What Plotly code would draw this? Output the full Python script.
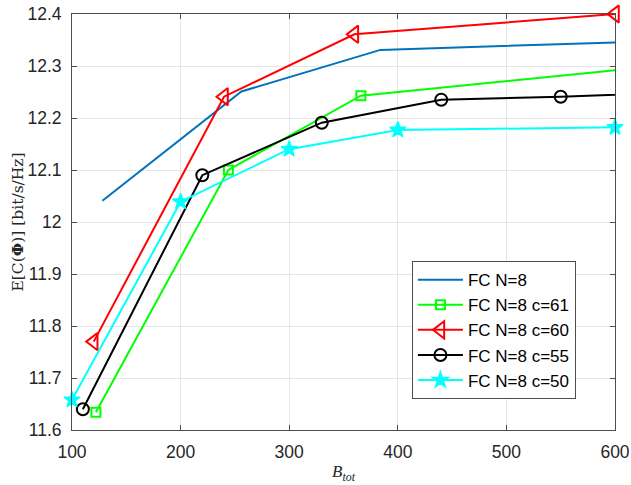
import plotly.graph_objects as go

# ---- data ----
x_fc = [128, 256, 384, 640]
y_fc = [12.041, 12.251, 12.331, 12.348]

x_c61 = [122, 244, 366, 610]
y_c61 = [11.634, 12.100, 12.243, 12.294]

x_c60 = [120, 240, 360, 600]
y_c60 = [11.770, 12.241, 12.361, 12.400]

x_c55 = [110, 220, 330, 440, 550, 660]
y_c55 = [11.640, 12.090, 12.191, 12.235, 12.241, 12.249]

x_c50 = [100, 200, 300, 400, 600]
y_c50 = [11.658, 12.039, 12.140, 12.177, 12.182]

names = ["FC N=8", "FC N=8 c=61", "FC N=8 c=60", "FC N=8 c=55", "FC N=8 c=50"]

x_ticks = [100, 200, 300, 400, 500, 600]
y_ticks = [11.6, 11.7, 11.8, 11.9, 12.0, 12.1, 12.2, 12.3, 12.4]
y_tick_text = ["11.6", "11.7", "11.8", "11.9", "12", "12.1", "12.2", "12.3", "12.4"]

fig = go.Figure()

fig.add_trace(go.Scatter(x=x_fc, y=y_fc, mode="lines", name=names[0],
                         line=dict(color="#0072BD", width=2)))
fig.add_trace(go.Scatter(x=x_c61, y=y_c61, mode="lines+markers", name=names[1],
                         line=dict(color="#00FF00", width=2),
                         marker=dict(symbol="square-open", size=9,
                                     line=dict(color="#00FF00", width=2))))
fig.add_trace(go.Scatter(x=x_c60, y=y_c60, mode="lines+markers", name=names[2],
                         line=dict(color="#FF0000", width=2),
                         cliponaxis=False,
                         marker=dict(symbol="triangle-left-open", size=15,
                                     line=dict(color="#FF0000", width=2))))
fig.add_trace(go.Scatter(x=x_c55, y=y_c55, mode="lines+markers", name=names[3],
                         line=dict(color="#000000", width=2),
                         marker=dict(symbol="circle-open", size=12,
                                     line=dict(color="#000000", width=2))))
fig.add_trace(go.Scatter(x=x_c50, y=y_c50, mode="lines+markers", name=names[4],
                         line=dict(color="#00FFFF", width=2),
                         cliponaxis=False,
                         marker=dict(symbol="star", size=12, color="#00FFFF",
                                     line=dict(color="#00FFFF", width=1.5))))

axis_common = dict(
    showline=True, linecolor="#4d4d4d", linewidth=1, mirror="ticks",
    ticks="inside", ticklen=5, tickcolor="#4d4d4d", tickwidth=1,
    showgrid=True, gridcolor="#e6e6e6", gridwidth=1, zeroline=False,
    automargin=False, ticklabeloverflow="allow",
    tickfont=dict(family="Liberation Sans, Arial, sans-serif", size=17.5, color="#262626"),
)

fig.update_xaxes(range=[100, 600], tickvals=x_ticks, ticklabelstandoff=6,
                 title=dict(text="<i>B</i><sub><i>tot</i></sub>",
                            font=dict(family="Liberation Serif, serif", size=17, color="#262626"),
                            standoff=4),
                 **axis_common)
fig.update_yaxes(range=[11.6, 12.4], tickvals=y_ticks, ticktext=y_tick_text,
                 ticklabelstandoff=6,
                 title=dict(text="E[C(<b>Φ</b>)] [bit/s/Hz]",
                            font=dict(family="DejaVu Serif, serif", size=15.5, color="#262626"),
                            standoff=0),
                 **axis_common)

fig.update_layout(
    width=631, height=485,
    margin=dict(l=72, r=16, t=14, b=55),
    paper_bgcolor="white", plot_bgcolor="white",
    legend=dict(x=0.626, y=0.406, xanchor="left", yanchor="top",
                bgcolor="white", bordercolor="#4d4d4d", borderwidth=1,
                font=dict(family="Liberation Sans, Arial, sans-serif", size=17, color="#000000"),
                itemwidth=45),
)

fig.write_html("out.html", config={"displayModeBar": False},
               post_script="document.body.style.margin='0px';")
